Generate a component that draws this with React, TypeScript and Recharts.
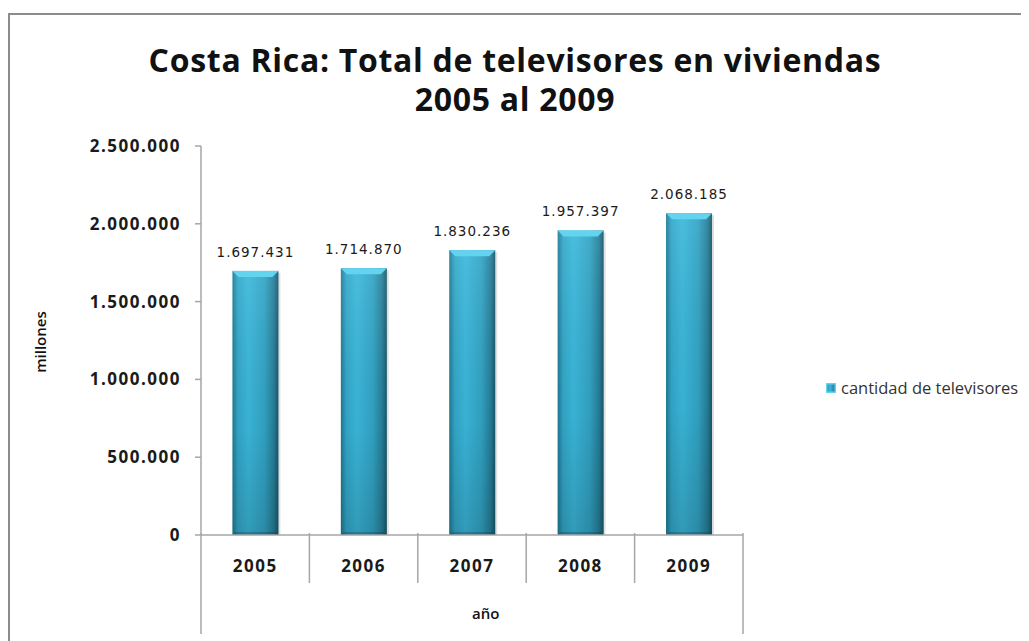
import { BarChart, Bar, XAxis, YAxis, LabelList } from "recharts";

const years = ["2005", "2006", "2007", "2008", "2009"];
const televisores = [1697431, 1714870, 1830236, 1957397, 2068185];
const yTicks = [0, 500000, 1000000, 1500000, 2000000, 2500000];

const data = years.map((y, i) => ({ year: y, tv: televisores[i] }));

const fmt = (v: number) => v.toLocaleString("de-DE");
const font = "'Open Sans', Lato, sans-serif";
const axisColor = "#a6a6a6";

const W = 1021;
const H = 633;
const margin = { top: 138, right: 286, left: 33, bottom: 6 };

function BarShape(props: any) {
  const { x, y, width, height } = props;
  if (!height || height <= 0) return null;
  const b = 6;
  return (
    <g>
      <rect x={x + 2} y={y + 2} width={width} height={height - 2} fill="rgba(0,0,0,0.12)" />
      <rect x={x} y={y} width={width} height={height} fill="url(#barH)" />
      <rect x={x} y={y} width={width} height={height} fill="url(#barV)" />
      <polygon points={`${x},${y} ${x + width},${y} ${x + width - b},${y + b} ${x + b},${y + b}`} fill="#63d3f0" />
      <polygon points={`${x},${y + height} ${x + width},${y + height} ${x + width - 3},${y + height - 3} ${x + 3},${y + height - 3}`} fill="rgba(0,40,55,0.25)" />
    </g>
  );
}

function YearTick(props: any) {
  const { x, y, payload, index } = props;
  const half = payload.offset || 54;
  const last = index === years.length - 1;
  return (
    <g>
      <text x={x} y={y + 29} textAnchor="middle" fontFamily={font} fontWeight={700} fontSize={17} letterSpacing={1.5} fill="#1a1a1a">
        {payload.value}
      </text>
      <line x1={x + half} y1={y - 10} x2={x + half} y2={last ? y + 91 : y + 40} stroke={axisColor} strokeWidth={1.5} />
      {index === 0 && <line x1={x - half} y1={y - 10} x2={x - half} y2={y + 91} stroke={axisColor} strokeWidth={1.5} />}
    </g>
  );
}

export default function App() {
  return (
    <div style={{ position: "relative", width: W, height: H, overflow: "hidden", background: "#fff" }}>
      <div style={{ position: "absolute", left: 0, top: 5, width: 1100, height: 700, border: "2px solid #8c8c8c", boxSizing: "border-box" }} />
      <div style={{ position: "absolute", left: 0, width: 1014, top: 32, textAlign: "center", fontFamily: font, fontWeight: 700, fontSize: 32, letterSpacing: 0.7, lineHeight: "39px", color: "#111" }}>
        Costa Rica: Total de televisores en viviendas
        <br />
        2005 al 2009
      </div>
      <div style={{ position: "absolute", left: 32, top: 334, transform: "translate(-50%, -50%) rotate(-90deg)", fontFamily: font, fontWeight: 600, fontSize: 15, color: "#111", whiteSpace: "nowrap" }}>
        millones
      </div>
      <div style={{ position: "absolute", left: 464, top: 595, fontFamily: font, fontWeight: 600, fontSize: 15, color: "#111" }}>
        año
      </div>
      <div style={{ position: "absolute", left: 818, top: 368, display: "flex", alignItems: "center", fontFamily: font, fontSize: 16.5, color: "#333" }}>
        <span style={{ display: "inline-block", width: 10, height: 10, marginRight: 5, background: "linear-gradient(90deg,#1f7f99,#3cb9de 40%,#1b6a80)", boxShadow: "inset 0 0 0 1.5px #63d3f0" }} />
        cantidad de televisores
      </div>
      <div style={{ position: "absolute", left: 0, top: 0 }}>
        <BarChart width={W} height={H} data={data} margin={margin} barCategoryGap="29%">
          <defs>
            <linearGradient id="barH" x1="0" y1="0" x2="1" y2="0">
              <stop offset="0%" stopColor="#1d7b94" />
              <stop offset="12%" stopColor="#33a8ca" />
              <stop offset="35%" stopColor="#3bb8dc" />
              <stop offset="70%" stopColor="#32a4c5" />
              <stop offset="90%" stopColor="#267f99" />
              <stop offset="100%" stopColor="#17586b" />
            </linearGradient>
            <linearGradient id="barV" x1="0" y1="0" x2="0" y2="1">
              <stop offset="0%" stopColor="#ffffff" stopOpacity={0.08} />
              <stop offset="60%" stopColor="#000000" stopOpacity={0.04} />
              <stop offset="100%" stopColor="#000000" stopOpacity={0.16} />
            </linearGradient>
          </defs>
          <XAxis
            dataKey="year"
            axisLine={{ stroke: axisColor, strokeWidth: 1.5 }}
            tickLine={false}
            tick={<YearTick />}
            interval={0}
            height={100}
          />
          <YAxis
            domain={[0, 2500000]}
            ticks={yTicks}
            width={160}
            axisLine={{ stroke: axisColor, strokeWidth: 1.5 }}
            tickLine={{ stroke: axisColor, strokeWidth: 1.5 }}
            tickSize={6}
            tickMargin={14}
            tickFormatter={fmt}
            tick={{ fontFamily: font, fontWeight: 700, fontSize: 17, letterSpacing: 1.5, fill: "#1a1a1a" }}
          />
          <Bar dataKey="tv" shape={<BarShape />} isAnimationActive={false}>
            <LabelList
              dataKey="tv"
              position="top"
              offset={14}
              formatter={(v: any) => fmt(Number(v))}
              style={{ fontFamily: "'DejaVu Sans', Verdana, sans-serif", fontSize: 13.5, fill: "#1a1a1a", letterSpacing: 1 }}
            />
          </Bar>
        </BarChart>
      </div>
    </div>
  );
}
